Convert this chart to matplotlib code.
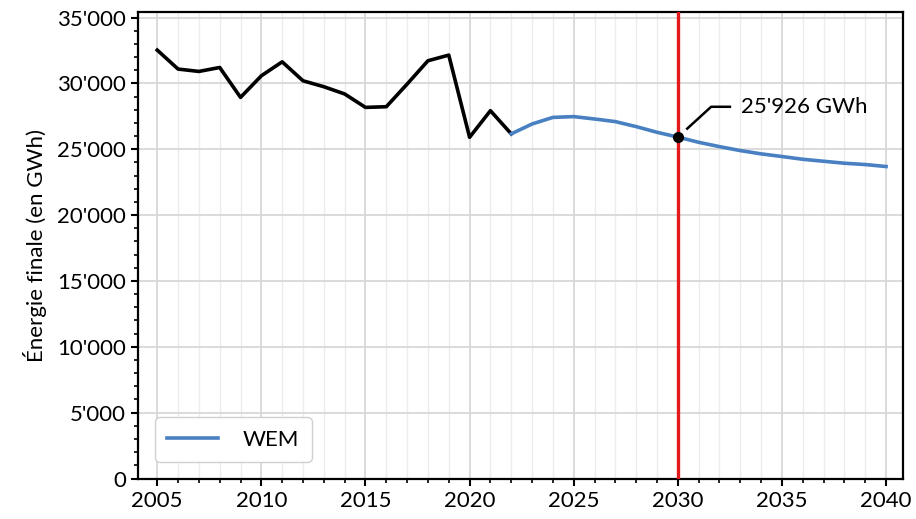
import matplotlib.pyplot as plt
from matplotlib.ticker import MultipleLocator, FuncFormatter

# historical final energy (GWh)
hist_years = list(range(2005, 2023))
hist_vals = [32530, 31090, 30910, 31210, 28940, 30580, 31640, 30200, 29750,
             29200, 28180, 28230, 29950, 31720, 32150, 25910, 27930, 26170]

# WEM projection
wem_years = list(range(2022, 2041))
wem_vals = [26170, 26920, 27420, 27480, 27300, 27100, 26720, 26290, 25926,
            25530, 25200, 24900, 24650, 24450, 24240, 24090, 23940, 23840, 23690]

target_year = 2030
target_val = 25926

plt.rcParams['font.family'] = ['Lato', 'DejaVu Sans']
FS = 16

fig = plt.figure(figsize=(9.16, 5.19), dpi=100)
ax = fig.add_axes([0.1512, 0.078, 0.8343, 0.8983])

ax.plot(hist_years, hist_vals, color='black', lw=2.6, zorder=4)
ax.plot(wem_years, wem_vals, color='#4880c2', lw=2.6, label='WEM', zorder=4)
ax.axvline(target_year, color='#e31a1c', lw=2.4, zorder=5)
ax.plot([target_year], [target_val], 'o', color='black', ms=7, zorder=6)

# leader line to the label
ax.plot([target_year + 0.45, target_year + 1.6, target_year + 2.5],
        [target_val + 640, target_val + 2300, target_val + 2300],
        color='black', lw=1.8, zorder=6)
ax.text(target_year + 3.05, target_val + 2300, "25'926 GWh",
        fontsize=FS, va='center', ha='left')

ax.set_xlim(2004.1, 2040.8)
ax.set_ylim(0, 35400)
ax.xaxis.set_major_locator(MultipleLocator(5))
ax.xaxis.set_minor_locator(MultipleLocator(1))
ax.yaxis.set_major_locator(MultipleLocator(5000))
ax.yaxis.set_minor_locator(MultipleLocator(1000))
ax.yaxis.set_major_formatter(FuncFormatter(lambda v, p: f"{int(v):,}".replace(',', "'")))

ax.grid(which='major', axis='both', color='#d8d8d8', lw=1.3, zorder=0)
ax.grid(which='minor', axis='x', color='#ececec', lw=1.0, zorder=0)

ax.tick_params(which='major', length=5, width=1.5, labelsize=FS, color='black', pad=4)
ax.tick_params(which='minor', length=3, width=1.2, color='black')
for s in ax.spines.values():
    s.set_linewidth(1.6)
    s.set_color('black')

ax.set_ylabel("Énergie finale (en GWh)", fontsize=FS, labelpad=7)

leg = ax.legend(loc='lower left', fontsize=FS, handlelength=2.3,
                borderpad=0.55, borderaxespad=0.75, handletextpad=1.1,
                fancybox=True, framealpha=1, edgecolor='#d0d0d0')

fig.savefig('out.png', dpi=100)
